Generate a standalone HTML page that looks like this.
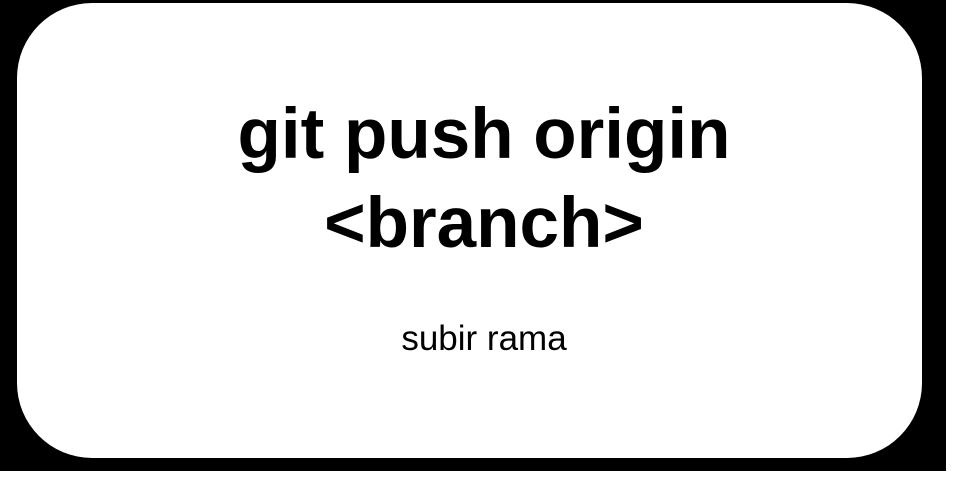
<!DOCTYPE html>
<html><head><style>
html,body{margin:0;padding:0;width:953px;height:481px;background:#fff;overflow:hidden}
svg{display:block}
</style></head><body>
<svg width="953" height="481" xmlns="http://www.w3.org/2000/svg">
<rect x="0" y="0" width="946" height="471" fill="#000"/>
<rect x="17" y="3" width="905" height="455" rx="75" ry="75" fill="#fff"/>
<g font-family="Liberation Sans, Arial, sans-serif" text-anchor="middle" fill="#000">
<text x="484" y="158" font-size="71" font-weight="bold">git push origin</text>
<text x="484" y="247" font-size="71" font-weight="bold">&lt;branch&gt;</text>
<text x="484" y="350" font-size="35">subir rama</text>
</g>
</svg>
</body></html>
